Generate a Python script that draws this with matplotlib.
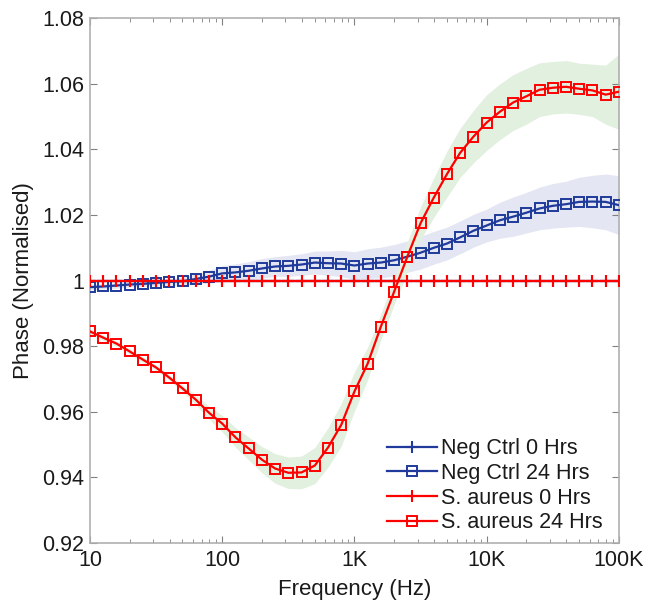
import matplotlib
matplotlib.use("Agg")
import matplotlib.pyplot as plt
from matplotlib.ticker import FixedLocator, FixedFormatter, LogLocator, NullFormatter

plt.rcParams['font.family'] = ['Liberation Sans', 'DejaVu Sans']

freq = [10, 12.59, 15.85, 19.95, 25.12, 31.62, 39.81, 50.12, 63.1, 79.43,
        100, 125.9, 158.5, 199.5, 251.2, 316.2, 398.1, 501.2, 631, 794.3,
        1000, 1259, 1585, 1995, 2512, 3162, 3981, 5012, 6310, 7943,
        10000, 12590, 15850, 19950, 25120, 31620, 39810, 50120, 63100, 79430,
        100000]

neg0 = [1.0] * 41
sa0 = [1.0] * 41

neg24 = [0.9980, 0.9982, 0.9985, 0.9988, 0.9990, 0.9993, 0.9996, 0.9998, 1.0005, 1.0012,
         1.0022, 1.0025, 1.0030, 1.0037, 1.0043, 1.0045, 1.0049, 1.0055, 1.0053, 1.0052,
         1.0046, 1.0052, 1.0055, 1.0062, 1.0073, 1.0085, 1.0100, 1.0113, 1.0132, 1.0152,
         1.0168, 1.0184, 1.0195, 1.0207, 1.0220, 1.0228, 1.0233, 1.0240, 1.0241, 1.0240,
         1.0230]
neg24_sd = [0.0008, 0.0008, 0.0008, 0.0008, 0.0008, 0.0008, 0.0010, 0.0013, 0.0016, 0.0020,
            0.0023, 0.0026, 0.0028, 0.0030, 0.0030, 0.0032, 0.0033, 0.0035, 0.0037, 0.0040,
            0.0042, 0.0045, 0.0047, 0.0048, 0.0048, 0.0050, 0.0050, 0.0050, 0.0050, 0.0050,
            0.0050, 0.0055, 0.0060, 0.0062, 0.0065, 0.0068, 0.0070, 0.0075, 0.0080, 0.0085,
            0.0090]

sa24 = [0.9845, 0.9826, 0.9808, 0.9784, 0.9759, 0.9735, 0.9704, 0.9671, 0.9637, 0.9597,
        0.9564, 0.9522, 0.9488, 0.9454, 0.9427, 0.9414, 0.9415, 0.9436, 0.9491, 0.9560,
        0.9662, 0.9747, 0.9860, 0.9966, 1.0073, 1.0175, 1.0253, 1.0325, 1.0390, 1.0439,
        1.0482, 1.0515, 1.0543, 1.0562, 1.0582, 1.0588, 1.0591, 1.0585, 1.0580, 1.0567,
        1.0576]
sa24_sd = [0.0008, 0.0008, 0.0008, 0.0008, 0.0008, 0.0008, 0.0008, 0.0010, 0.0015, 0.0020,
           0.0025, 0.0030, 0.0035, 0.0040, 0.0045, 0.0048, 0.0050, 0.0055, 0.0060, 0.0065,
           0.0060, 0.0050, 0.0040, 0.0040, 0.0045, 0.0050, 0.0060, 0.0070, 0.0075, 0.0080,
           0.0085, 0.0085, 0.0085, 0.0085, 0.0082, 0.0080, 0.0080, 0.0078, 0.0080, 0.0090,
           0.0115]

yticks = [0.92, 0.94, 0.96, 0.98, 1.0, 1.02, 1.04, 1.06, 1.08]
ytick_labels = ['0.92', '0.94', '0.96', '0.98', '1', '1.02', '1.04', '1.06', '1.08']
xticks = [10, 100, 1000, 10000, 100000]
xtick_labels = ['10', '100', '1K', '10K', '100K']

blue = '#1f3a9a'
red = '#ff0000'

fig = plt.figure(figsize=(6.57, 6.08), dpi=100)
ax = fig.add_axes([0.137, 0.107, 0.805, 0.863])

ax.fill_between(freq, [m - s for m, s in zip(neg24, neg24_sd)],
                [m + s for m, s in zip(neg24, neg24_sd)],
                color='#e4e7f3', linewidth=0, zorder=1)
ax.fill_between(freq, [m - s for m, s in zip(sa24, sa24_sd)],
                [m + s for m, s in zip(sa24, sa24_sd)],
                color='#e2f0df', linewidth=0, zorder=1)

ax.plot(freq, neg0, color=blue, marker='+', markersize=9, markeredgewidth=1.5,
        linewidth=1.6, label='Neg Ctrl 0 Hrs', zorder=3)
ax.plot(freq, neg24, color=blue, marker='s', markersize=6.5, markerfacecolor='none',
        markeredgewidth=1.4, linewidth=1.6, label='Neg Ctrl 24 Hrs', zorder=3)
ax.plot(freq, sa0, color=red, marker='+', markersize=9, markeredgewidth=1.5,
        linewidth=1.6, label='S. aureus 0 Hrs', zorder=4)
ax.plot(freq, sa24, color=red, marker='s', markersize=6.5, markerfacecolor='none',
        markeredgewidth=1.4, linewidth=1.6, label='S. aureus 24 Hrs', zorder=4)

ax.set_xscale('log')
ax.set_xlim(10, 100000)
ax.set_ylim(0.92, 1.08)
ax.xaxis.set_major_locator(FixedLocator(xticks))
ax.xaxis.set_major_formatter(FixedFormatter(xtick_labels))
ax.xaxis.set_minor_locator(LogLocator(base=10, subs=range(2, 10)))
ax.xaxis.set_minor_formatter(NullFormatter())
ax.yaxis.set_major_locator(FixedLocator(yticks))
ax.yaxis.set_major_formatter(FixedFormatter(ytick_labels))

for sp in ax.spines.values():
    sp.set_color('#b0b0b0')
    sp.set_linewidth(1.2)
ax.tick_params(which='both', direction='in', top=True, right=True, colors='#808080',
               labelcolor='#1a1a1a', labelsize=15.5)
ax.tick_params(axis='y', which='major', length=5, width=0.8, pad=4)
ax.tick_params(axis='x', which='major', length=5, width=0.8, pad=5)
ax.tick_params(which='minor', length=3, width=0.6)

ax.set_xlabel('Frequency (Hz)', fontsize=16, color='#1a1a1a', labelpad=6)
ax.set_ylabel('Phase (Normalised)', fontsize=16, color='#1a1a1a', labelpad=6)

leg = ax.legend(loc='lower right', bbox_to_anchor=(0.988, 0.0), frameon=False,
                fontsize=15.5, handlelength=2.3, handletextpad=0.2,
                labelspacing=0.17, borderaxespad=0.05)
for t in leg.get_texts():
    t.set_color('#1a1a1a')

fig.savefig('out.png', dpi=100)
